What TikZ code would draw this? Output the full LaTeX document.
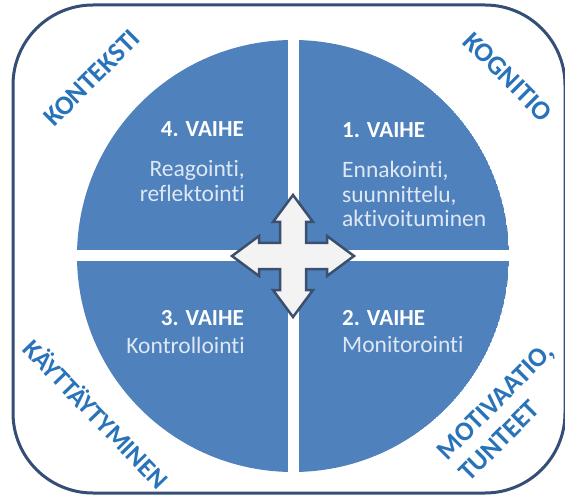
\documentclass[tikz,border=0pt]{standalone}
\usepackage{fontspec}
\setmainfont{Carlito}[Ligatures=NoCommon]
\definecolor{qblue}{RGB}{79,129,189}
\definecolor{framecol}{RGB}{52,78,118}
\definecolor{labelblue}{RGB}{40,115,185}
\definecolor{bodytext}{RGB}{222,232,244}
\definecolor{crossfill}{RGB}{243,243,243}
\definecolor{crossline}{RGB}{58,80,110}
\tikzset{
  heading/.style={inner sep=0pt, text=white, font=\fontsize{23}{24.5}\selectfont\bfseries},
  body/.style={inner sep=0pt, text=bodytext, font=\fontsize{23.5}{24.5}\selectfont},
  corner/.style={inner sep=0pt, text=labelblue, font=\fontsize{27}{31}\selectfont\bfseries},
  crossstyle/.style={fill=crossfill, draw=crossline, line width=2.5pt, line join=miter},
}
\begin{document}
\begin{tikzpicture}[x=1pt,y=-1pt]
\useasboundingbox (0,0) rectangle (565,497);
\fill[white] (0,0) rectangle (565,497);
\draw[framecol, line width=3pt, rounded corners=80pt, fill=white] (13,5) rectangle (565,493);
% circle with quadrant gaps
\begin{scope}
  \clip (293,256) circle[radius=216pt];
  \fill[qblue] (293,256) circle[radius=216pt];
  \fill[white] (287.5,30) rectangle (298.5,480);
  \fill[white] (70,250.5) rectangle (520,261.5);
\end{scope}
% central four-way arrow
\draw[crossstyle, shift={(293,256)}]
  (0,-61) -- (20,-34) -- (13,-34) -- (13,-13) -- (34,-13) -- (34,-20) --
  (61,0) -- (34,20) -- (34,13) -- (13,13) -- (13,34) -- (20,34) --
  (0,61) -- (-20,34) -- (-13,34) -- (-13,13) -- (-34,13) -- (-34,20) --
  (-61,0) -- (-34,-20) -- (-34,-13) -- (-13,-13) -- (-13,-34) -- (-20,-34) -- cycle;
% quadrant texts
\node[heading, anchor=east] (h4) at (244,129) {4. VAIHE};
\node[body, anchor=east, align=right] (b4) at (245,181) {Reagointi,\\reflektointi};
\node[heading, anchor=west] (h1) at (342,130) {1. VAIHE};
\node[body, anchor=west, align=left] (b1) at (342,194) {Ennakointi,\\suunnittelu,\\aktivoituminen};
\node[heading, anchor=east] (h3) at (244,318) {3. VAIHE};
\node[body, anchor=east] (b3) at (245,345) {Kontrollointi};
\node[heading, anchor=west] (h2) at (342,318) {2. VAIHE};
\node[body, anchor=west] (b2) at (342,345) {Monitorointi};
% corner labels
\node[corner, rotate=45] (kon) at (92,78) {KONTEKSTI};
\node[corner, rotate=-45] (kog) at (508,77) {KOGNITIO};
\node[corner, rotate=-46, font=\fontsize{26}{30}\selectfont\bfseries] (kay) at (97,413) {KÄYTTÄYTYMINEN};
\node[corner, rotate=45, align=left] (mot) at (506,412) {MOTIVAATIO,\\TUNTEET};
\end{tikzpicture}
\end{document}
